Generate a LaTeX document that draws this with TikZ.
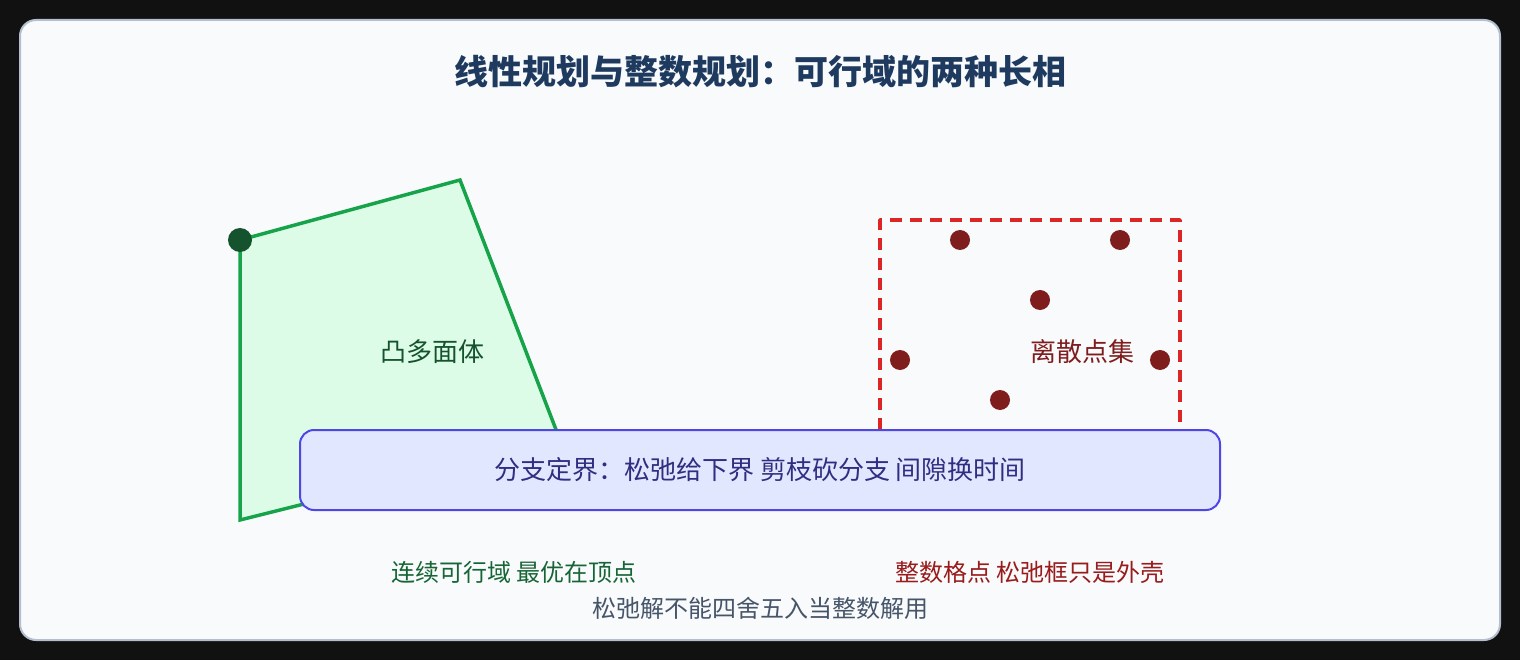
\documentclass[tikz,border=0pt]{standalone}
\usepackage{fontspec}
\setmainfont{Noto Sans CJK SC}
\usepackage{tikz}
\usetikzlibrary{calc}
\definecolor{qqqqqq}{rgb}{0.067,0.067,0.067}
\definecolor{ffffff}{rgb}{0.973,0.980,0.988}
\definecolor{bbccdd}{rgb}{0.702,0.749,0.812}
\definecolor{qqddww}{rgb}{0.118,0.227,0.373}
\definecolor{qqaaww}{rgb}{0.086,0.639,0.290}
\definecolor{ddffee}{rgb}{0.863,0.988,0.906}
\definecolor{qqwwqq}{rgb}{0.078,0.325,0.176}
\definecolor{qqggqq}{rgb}{0.086,0.396,0.204}
\definecolor{ddqqqq}{rgb}{0.863,0.149,0.149}
\definecolor{wwqqqq}{rgb}{0.498,0.114,0.114}
\definecolor{ggqqqq}{rgb}{0.600,0.106,0.106}
\definecolor{eeeeff}{rgb}{0.878,0.906,1.}
\definecolor{wwwwee}{rgb}{0.310,0.275,0.898}
\definecolor{ddddww}{rgb}{0.192,0.180,0.506}
\definecolor{wwwwww}{rgb}{0.278,0.333,0.412}
\tikzstyle{every node}=[font=\fontsize{26}{30}\selectfont,inner sep=0pt]

\begin{document}
\begin{tikzpicture}[line cap=round,line join=round,x=1pt,y=-1pt]
            \fill [color=qqqqqq] (0,0) rectangle (1520,660);
            \draw [line width=2pt,color=bbccdd,fill=ffffff,rounded corners=16pt] (20,20) rectangle (1500,640);
            \node [text=qqddww,font=\fontsize{34}{40}\selectfont\bfseries] (title) at (760,72) {线性规划与整数规划：可行域的两种长相};
            % continuous region
            \draw [line width=3.5pt,line join=miter,color=qqaaww,fill=ddffee] (240,240) -- (460,180) -- (560,440) -- (240,520) -- cycle;
            \fill [color=qqwwqq] (240,240) circle (12pt);
            \node [text=qqwwqq] (poly) at (432,352) {凸多面体};
            % integer points
            \draw [line width=3.5pt,line cap=butt,dash pattern=on 12pt off 8pt,color=ddqqqq] (880,470) -- (880,220) -- (1180,220) -- (1180,470);
            \foreach \x/\y in {960/240,1120/240,1040/300,900/360,1160/360,1000/400}
              \fill [color=wwqqqq] (\x,\y) circle (10pt);
            \node [text=wwqqqq] (pts) at (1082,352) {离散点集};
            % branch and bound
            \node [draw=wwwwee,line width=2pt,fill=eeeeff,rounded corners=14pt,minimum width=920pt,minimum height=80pt,text=ddddww] (bnb) at (760,470) {\raisebox{-4pt}{分支定界：松弛给下界 剪枝砍分支 间隙换时间}};
            \begin{scriptsize}
            \node [text=qqggqq,font=\fontsize{24}{28}\selectfont] (lp) at (514,572) {连续可行域 最优在顶点};
            \node [text=ggqqqq,font=\fontsize{24}{28}\selectfont] (ip) at (1030,572) {整数格点 松弛框只是外壳};
            \node [text=wwwwww,font=\fontsize{24}{28}\selectfont] (note) at (760,608) {松弛解不能四舍五入当整数解用};
            \end{scriptsize}
\end{tikzpicture}
\end{document}
